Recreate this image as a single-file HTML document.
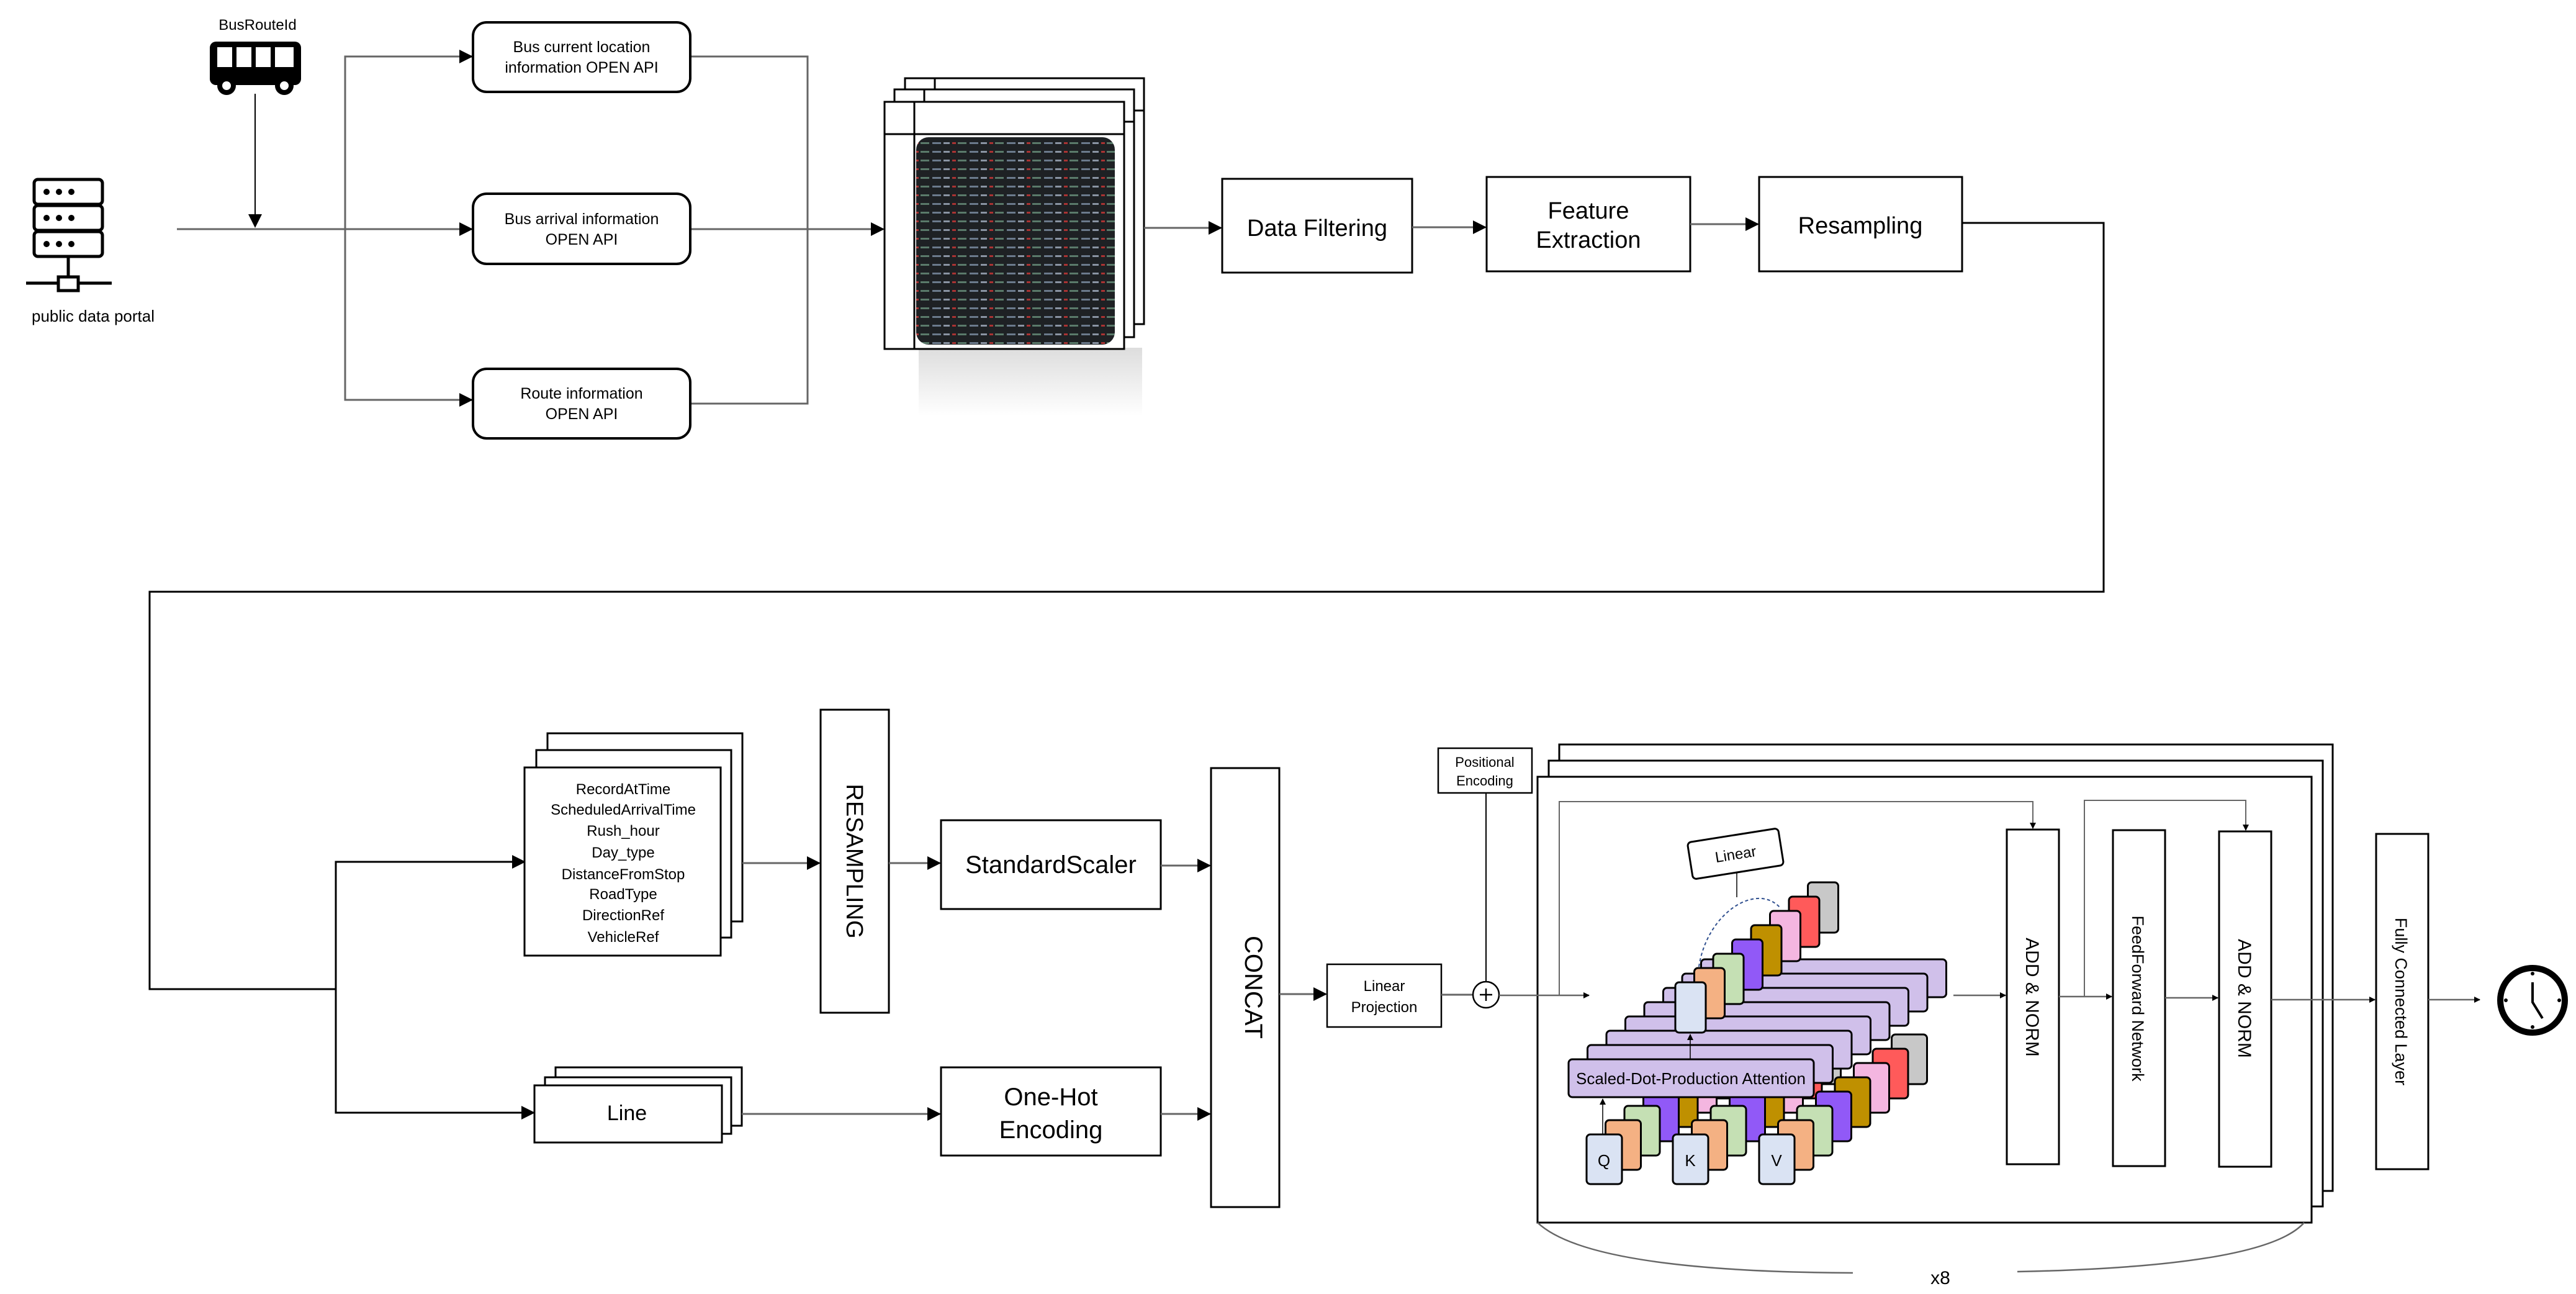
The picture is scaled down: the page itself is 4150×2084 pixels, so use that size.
<!DOCTYPE html>
<html><head><meta charset="utf-8"><style>
html,body{margin:0;padding:0;background:#fff;}
svg{display:block;font-family:"Liberation Sans",sans-serif;}
</style></head><body>
<svg width="4150" height="2084" viewBox="0 0 4150 2084" xmlns="http://www.w3.org/2000/svg">
<defs>
<marker id="a" markerWidth="10" markerHeight="10" refX="9" refY="5" orient="auto" markerUnits="userSpaceOnUse" viewBox="0 0 10 10"><path d="M0,0 L10,5 L0,10z" fill="#000"/></marker>
<marker id="A" markerWidth="22" markerHeight="22" refX="20" refY="11" orient="auto" markerUnits="userSpaceOnUse" viewBox="0 0 22 22"><path d="M0,0 L22,11 L0,22z" fill="#000"/></marker>
<pattern id="dat" width="60" height="14" patternUnits="userSpaceOnUse">
<rect width="60" height="14" fill="#1e2124"/>
<rect x="2" y="5" width="14" height="3" fill="#6b7a8c"/><rect x="20" y="5" width="10" height="3" fill="#8a94a3"/>
<rect x="34" y="5" width="6" height="3" fill="#a33"/><rect x="43" y="5" width="14" height="3" fill="#5a7a6a"/>
</pattern>
<linearGradient id="sh" x1="0" y1="0" x2="0" y2="1"><stop offset="0" stop-color="#ddd"/><stop offset="1" stop-color="#fff"/></linearGradient>
</defs>
<g fill="none" stroke="#000" stroke-width="3">

<text x="415" y="48" font-size="24" fill="#000" stroke="none" text-anchor="middle">BusRouteId</text>
<g stroke="none" fill="#000">
<rect x="338" y="67" width="147" height="70" rx="10"/>
<circle cx="365" cy="138" r="15"/><circle cx="458" cy="138" r="15"/>
</g>
<g stroke="none" fill="#fff">
<rect x="350" y="76" width="24" height="32"/><rect x="381" y="76" width="24" height="32"/><rect x="412" y="76" width="24" height="32"/><rect x="443" y="76" width="30" height="32"/>
<circle cx="365" cy="138" r="7"/><circle cx="458" cy="138" r="7"/>
</g>
<line x1="411" y1="151" x2="411" y2="365" stroke-width="2" marker-end="url(#A)"/>

<g stroke-width="5">
<rect x="55" y="289" width="110" height="40" rx="6"/>
<rect x="55" y="331" width="110" height="40" rx="6"/>
<rect x="55" y="373" width="110" height="40" rx="6"/>
<line x1="110" y1="413" x2="110" y2="446"/>
<line x1="42" y1="456" x2="180" y2="456"/>
<rect x="94" y="446" width="32" height="22" fill="#fff"/>
</g>
<g fill="#000" stroke="none">
<circle cx="75" cy="309" r="5"/><circle cx="95" cy="309" r="5"/><circle cx="115" cy="309" r="5"/>
<circle cx="75" cy="351" r="5"/><circle cx="95" cy="351" r="5"/><circle cx="115" cy="351" r="5"/>
<circle cx="75" cy="393" r="5"/><circle cx="95" cy="393" r="5"/><circle cx="115" cy="393" r="5"/>
</g>
<text x="150" y="518" font-size="26" fill="#000" stroke="none" text-anchor="middle">public data portal</text>

<line x1="285" y1="369" x2="760" y2="369" stroke="#666" marker-end="url(#A)"/>
<polyline points="758,91 556,91 556,644 758,644" stroke="#666"/>
<line x1="740" y1="91" x2="760" y2="91" marker-end="url(#A)"/>
<line x1="740" y1="644" x2="760" y2="644" marker-end="url(#A)"/>
<polyline points="1112,91 1301,91 1301,650 1112,650" stroke="#666"/>
<line x1="1112" y1="369" x2="1423" y2="369" stroke="#666" marker-end="url(#A)"/>

<rect x="762" y="36" width="350" height="112" rx="22" stroke-width="4"/>
<rect x="762" y="312" width="350" height="113" rx="22" stroke-width="4"/>
<rect x="762" y="594" width="350" height="112" rx="22" stroke-width="4"/>
<g fill="#000" stroke="none" font-size="25" text-anchor="middle">
<text x="937" y="84">Bus current location</text><text x="937" y="117">information OPEN API</text>
<text x="937" y="361">Bus arrival information</text><text x="937" y="394">OPEN API</text>
<text x="937" y="642">Route information</text><text x="937" y="675">OPEN API</text>
</g>

<rect x="1480" y="560" width="360" height="110" fill="url(#sh)" stroke="none"/>
<rect x="1458" y="126" width="385" height="396" fill="#fff"/>
<line x1="1458" y1="178" x2="1843" y2="178"/><line x1="1506" y1="126" x2="1506" y2="178"/>
<rect x="1441" y="144" width="386" height="399" fill="#fff"/>
<line x1="1441" y1="196" x2="1827" y2="196"/><line x1="1489" y1="144" x2="1489" y2="196"/>
<rect x="1425" y="164" width="386" height="398" fill="#fff"/>
<line x1="1425" y1="216" x2="1811" y2="216"/><line x1="1473" y1="164" x2="1473" y2="562"/>
<rect x="1476" y="221" width="320" height="334" rx="20" fill="url(#dat)" stroke="none"/>

<line x1="1843" y1="367" x2="1967" y2="367" stroke="#666" marker-end="url(#A)"/>
<rect x="1969" y="288" width="306" height="151"/>
<line x1="2275" y1="366" x2="2393" y2="366" stroke="#666" marker-end="url(#A)"/>
<rect x="2395" y="285" width="328" height="152"/>
<line x1="2723" y1="361" x2="2832" y2="361" stroke="#666" marker-end="url(#A)"/>
<rect x="2834" y="285" width="327" height="152"/>
<g fill="#000" stroke="none" font-size="38" text-anchor="middle">
<text x="2122" y="380">Data Filtering</text>
<text x="2559" y="352">Feature</text><text x="2559" y="399">Extraction</text>
<text x="2997" y="376">Resampling</text>
</g>
<polyline points="3161,359 3389,359 3389,953 241,953 241,1593 541,1593"/>
<polyline points="845,1388 541,1388 541,1792 852,1792"/>
<line x1="800" y1="1388" x2="845" y2="1388" marker-end="url(#A)"/>
<line x1="800" y1="1792" x2="860" y2="1792" marker-end="url(#A)"/>

<rect x="882" y="1181" width="314" height="303" fill="#fff"/>
<rect x="864" y="1208" width="314" height="302" fill="#fff"/>
<rect x="845" y="1236" width="316" height="303" fill="#fff"/>
<g fill="#000" stroke="none" font-size="24" text-anchor="middle">
<text x="1004" y="1279">RecordAtTime</text><text x="1004" y="1312">ScheduledArrivalTime</text>
<text x="1004" y="1346">Rush_hour</text><text x="1004" y="1381">Day_type</text>
<text x="1004" y="1416">DistanceFromStop</text><text x="1004" y="1448">RoadType</text>
<text x="1004" y="1482">DirectionRef</text><text x="1004" y="1517">VehicleRef</text>
</g>
<line x1="1196" y1="1390" x2="1320" y2="1390" stroke="#666" marker-end="url(#A)"/>
<rect x="1322" y="1143" width="110" height="488"/>
<text transform="translate(1364,1387) rotate(90)" font-size="38" fill="#000" stroke="none" text-anchor="middle">RESAMPLING</text>
<line x1="1432" y1="1390" x2="1514" y2="1390" stroke="#666" marker-end="url(#A)"/>
<rect x="1516" y="1321" width="354" height="143"/>
<text x="1693" y="1406" font-size="40" fill="#000" stroke="none" text-anchor="middle">StandardScaler</text>
<line x1="1870" y1="1394" x2="1949" y2="1394" stroke="#666" marker-end="url(#A)"/>

<rect x="895" y="1719" width="300" height="94" fill="#fff"/>
<rect x="878" y="1735" width="300" height="91" fill="#fff"/>
<rect x="861" y="1748" width="302" height="92" fill="#fff"/>
<text x="1010" y="1804" font-size="34" fill="#000" stroke="none" text-anchor="middle">Line</text>
<line x1="1195" y1="1794" x2="1514" y2="1794" stroke="#666" marker-end="url(#A)"/>
<rect x="1516" y="1719" width="354" height="142"/>
<g fill="#000" stroke="none" font-size="40" text-anchor="middle"><text x="1693" y="1780">One-Hot</text><text x="1693" y="1833">Encoding</text></g>
<line x1="1870" y1="1794" x2="1949" y2="1794" stroke="#666" marker-end="url(#A)"/>
<rect x="1951" y="1237" width="110" height="707"/>
<text transform="translate(2006,1590) rotate(90)" font-size="40" fill="#000" stroke="none" text-anchor="middle">CONCAT</text>
<line x1="2061" y1="1601" x2="2136" y2="1601" stroke="#666" marker-end="url(#A)"/>
<rect x="2138" y="1553" width="184" height="101" stroke-width="2.5"/>
<g fill="#000" stroke="none" font-size="24" text-anchor="middle"><text x="2230" y="1596">Linear</text><text x="2230" y="1630">Projection</text></g>
<line x1="2322" y1="1602" x2="2373" y2="1602" stroke="#666"/>
<rect x="2317" y="1205" width="151" height="72" stroke-width="2.5"/>
<g fill="#000" stroke="none" font-size="22" text-anchor="middle"><text x="2392" y="1235">Positional</text><text x="2392" y="1265">Encoding</text></g>
<line x1="2394" y1="1277" x2="2394" y2="1581" stroke-width="2"/>
<circle cx="2394" cy="1602" r="21" stroke-width="2.5"/>
<path d="M2384,1602 H2404 M2394,1592 V1612" stroke-width="2.5"/>

<rect x="2512" y="1199" width="1246" height="719" fill="#fff"/>
<rect x="2495" y="1225" width="1247" height="718" fill="#fff"/>
<rect x="2477" y="1251" width="1247" height="718" fill="#fff"/>
<line x1="2415" y1="1603" x2="2560" y2="1603" stroke="#666" stroke-width="2.5" marker-end="url(#a)"/>
<polyline points="2512,1603 2512,1291 3275,1291 3275,1334" stroke="#666" stroke-width="2" marker-end="url(#a)"/>
<polyline points="3358,1605 3358,1289 3618,1289 3618,1337" stroke="#666" stroke-width="2" marker-end="url(#a)"/>
<rect x="3233" y="1336" width="84" height="539"/>
<rect x="3404" y="1337" width="84" height="541"/>
<rect x="3575" y="1339" width="84" height="540"/>
<rect x="3828" y="1343" width="84" height="540"/>
<g fill="#000" stroke="none" font-size="30" text-anchor="middle">
<text transform="translate(3264,1606) rotate(90)">ADD &amp; NORM</text>
<text transform="translate(3435,1608) rotate(90)" font-size="27">FeedForward Network</text>
<text transform="translate(3606,1608) rotate(90)">ADD &amp; NORM</text>
<text transform="translate(3859,1613) rotate(90)" font-size="27">Fully Connected Layer</text>
</g>
<line x1="3147" y1="1603" x2="3231" y2="1603" stroke="#666" stroke-width="2.5" marker-end="url(#a)"/>
<line x1="3317" y1="1605" x2="3402" y2="1605" stroke="#666" stroke-width="2.5" marker-end="url(#a)"/>
<line x1="3488" y1="1607" x2="3573" y2="1607" stroke="#666" stroke-width="2.5" marker-end="url(#a)"/>
<line x1="3659" y1="1610" x2="3826" y2="1610" stroke="#666" stroke-width="2.5" marker-end="url(#a)"/>
<line x1="3912" y1="1610" x2="3995" y2="1610" stroke="#666" stroke-width="2.5" marker-end="url(#a)"/>

<circle cx="4080" cy="1611" r="52" stroke-width="10"/>
<path d="M4080,1582 L4080,1614 L4096,1640" stroke-width="4"/>
<g fill="#000" stroke="none"><circle cx="4080" cy="1568" r="3"/><circle cx="4080" cy="1654" r="3"/><circle cx="4037" cy="1611" r="3"/><circle cx="4123" cy="1611" r="3"/></g>

<path d="M2477,1969 Q2560,2048 2985,2050" stroke="#666" stroke-width="2.5"/>
<path d="M3250,2048 Q3650,2040 3712,1969" stroke="#666" stroke-width="2.5"/>
<text x="3126" y="2068" font-size="30" fill="#000" stroke="none" text-anchor="middle">x8</text>

<g stroke-width="3">
<g transform="translate(213.5,-161)"><rect x="2556" y="1827" width="57" height="80" rx="6" fill="#c8c8c8"/><rect x="2695" y="1827" width="57" height="80" rx="6" fill="#c8c8c8"/><rect x="2834" y="1827" width="57" height="80" rx="6" fill="#c8c8c8"/><rect x="2527" y="1706" width="395" height="61" rx="6" fill="#d0c0ea"/><rect x="2699" y="1582" width="49" height="81" rx="6" fill="#c8c8c8"/></g>
<g transform="translate(183,-138)"><rect x="2556" y="1827" width="57" height="80" rx="6" fill="#ff5a5a"/><rect x="2695" y="1827" width="57" height="80" rx="6" fill="#ff5a5a"/><rect x="2834" y="1827" width="57" height="80" rx="6" fill="#ff5a5a"/><rect x="2527" y="1706" width="395" height="61" rx="6" fill="#d0c0ea"/><rect x="2699" y="1582" width="49" height="81" rx="6" fill="#ff5a5a"/></g>
<g transform="translate(152.5,-115)"><rect x="2556" y="1827" width="57" height="80" rx="6" fill="#f4b6e0"/><rect x="2695" y="1827" width="57" height="80" rx="6" fill="#f4b6e0"/><rect x="2834" y="1827" width="57" height="80" rx="6" fill="#f4b6e0"/><rect x="2527" y="1706" width="395" height="61" rx="6" fill="#d0c0ea"/><rect x="2699" y="1582" width="49" height="81" rx="6" fill="#f4b6e0"/></g>
<g transform="translate(122,-92)"><rect x="2556" y="1827" width="57" height="80" rx="6" fill="#bf9000"/><rect x="2695" y="1827" width="57" height="80" rx="6" fill="#bf9000"/><rect x="2834" y="1827" width="57" height="80" rx="6" fill="#bf9000"/><rect x="2527" y="1706" width="395" height="61" rx="6" fill="#d0c0ea"/><rect x="2699" y="1582" width="49" height="81" rx="6" fill="#bf9000"/></g>
<g transform="translate(91.5,-69)"><rect x="2556" y="1827" width="57" height="80" rx="6" fill="#9159f7"/><rect x="2695" y="1827" width="57" height="80" rx="6" fill="#9159f7"/><rect x="2834" y="1827" width="57" height="80" rx="6" fill="#9159f7"/><rect x="2527" y="1706" width="395" height="61" rx="6" fill="#d0c0ea"/><rect x="2699" y="1582" width="49" height="81" rx="6" fill="#9159f7"/></g>
<g transform="translate(61,-46)"><rect x="2556" y="1827" width="57" height="80" rx="6" fill="#c5e0b4"/><rect x="2695" y="1827" width="57" height="80" rx="6" fill="#c5e0b4"/><rect x="2834" y="1827" width="57" height="80" rx="6" fill="#c5e0b4"/><rect x="2527" y="1706" width="395" height="61" rx="6" fill="#d0c0ea"/><rect x="2699" y="1582" width="49" height="81" rx="6" fill="#c5e0b4"/></g>
<g transform="translate(30.5,-23)"><rect x="2556" y="1827" width="57" height="80" rx="6" fill="#f4b183"/><rect x="2695" y="1827" width="57" height="80" rx="6" fill="#f4b183"/><rect x="2834" y="1827" width="57" height="80" rx="6" fill="#f4b183"/><rect x="2527" y="1706" width="395" height="61" rx="6" fill="#d0c0ea"/><rect x="2699" y="1582" width="49" height="81" rx="6" fill="#f4b183"/></g>
<g><rect x="2556" y="1827" width="57" height="80" rx="6" fill="#dae3f3"/><rect x="2695" y="1827" width="57" height="80" rx="6" fill="#dae3f3"/><rect x="2834" y="1827" width="57" height="80" rx="6" fill="#dae3f3"/><rect x="2527" y="1706" width="395" height="61" rx="6" fill="#d0c0ea"/><rect x="2699" y="1582" width="49" height="81" rx="6" fill="#dae3f3"/></g>
<line x1="2582" y1="1827" x2="2582" y2="1770" stroke-width="1.5" marker-end="url(#a)"/>
<line x1="2723" y1="1706" x2="2723" y2="1666" stroke-width="1.5" marker-end="url(#a)"/>
</g>
<g fill="#000" stroke="none" font-size="26" text-anchor="middle">
<text x="2724" y="1746">Scaled-Dot-Production Attention</text>
<text x="2584" y="1878">Q</text><text x="2723" y="1878">K</text><text x="2862" y="1878">V</text>
</g>
<g transform="translate(2796,1375) rotate(-9)">
<rect x="-74" y="-30" width="148" height="60" rx="6" fill="#fff" stroke-width="3"/>
<text x="0" y="9" font-size="24" fill="#000" stroke="none" text-anchor="middle">Linear</text>
</g>
<line x1="2798" y1="1405" x2="2798" y2="1445" stroke-width="1.5"/>
<path d="M2737,1557 C2750,1470 2830,1420 2868,1462" stroke="#2f4f8f" stroke-width="2" stroke-dasharray="5,4"/>
</g>
</svg>
</body></html>
